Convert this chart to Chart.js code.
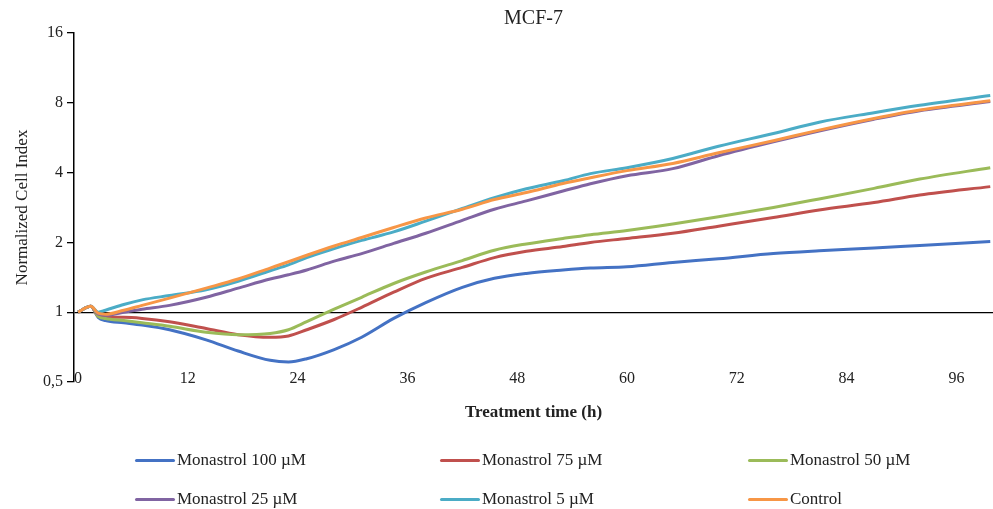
<!DOCTYPE html>
<html>
<head>
<meta charset="utf-8">
<script src="https://cdn.jsdelivr.net/npm/chart.js@4"></script>
<style>
    body { margin: 0; background: #fff; }
    .wrap { position: relative; width: 993px; height: 509px; }
    .legend { position: absolute; left: 0; top: 0; width: 993px; height: 509px; pointer-events: none;
        font-family: 'Liberation Serif', serif; font-size: 17px; color: #222; }
    .item { position: absolute; display: flex; align-items: center; height: 20px; white-space: nowrap; }
    .item span.line { display: inline-block; width: 40px; height: 3px; border-radius: 2px; margin-right: 2px; }
</style>
</head>
<body>
<div class="wrap">
    <canvas id="chart" width="993" height="509"></canvas>
    <div class="legend" id="legend"></div>
</div>
<script>
// Time points (h)
const times = [0, 1.4, 2.2, 3, 5, 7, 10, 14, 17.5, 21, 23, 25, 28, 31, 34.5, 38, 42, 45.5, 49, 53, 56, 60, 65, 70, 76, 81, 87, 92, 99.7];

// Normalized cell index per treatment
const mon100 = [1.0, 1.06, 0.95, 0.92, 0.90, 0.88, 0.84, 0.76, 0.68, 0.62, 0.61, 0.63, 0.69, 0.78, 0.94, 1.10, 1.28, 1.40, 1.47, 1.52, 1.55, 1.57, 1.64, 1.70, 1.79, 1.84, 1.89, 1.94, 2.02];
const mon75 = [1.0, 1.06, 0.96, 0.95, 0.95, 0.94, 0.91, 0.85, 0.80, 0.78, 0.79, 0.84, 0.93, 1.05, 1.22, 1.40, 1.56, 1.72, 1.83, 1.92, 2.0, 2.08, 2.19, 2.35, 2.56, 2.76, 2.97, 3.2, 3.48];
const mon50 = [1.0, 1.06, 0.96, 0.94, 0.92, 0.90, 0.87, 0.82, 0.80, 0.81, 0.84, 0.91, 1.03, 1.16, 1.33, 1.49, 1.67, 1.85, 1.97, 2.08, 2.16, 2.25, 2.40, 2.58, 2.83, 3.08, 3.42, 3.75, 4.2];
const mon25 = [1.0, 1.06, 0.98, 0.97, 1.0, 1.03, 1.07, 1.16, 1.27, 1.39, 1.45, 1.52, 1.66, 1.79, 1.98, 2.19, 2.49, 2.78, 3.02, 3.33, 3.58, 3.88, 4.16, 4.73, 5.43, 6.05, 6.8, 7.4, 8.1];
const mon5 = [1.0, 1.06, 1.0, 1.02, 1.08, 1.13, 1.18, 1.25, 1.36, 1.51, 1.6, 1.72, 1.88, 2.04, 2.22, 2.47, 2.8, 3.12, 3.41, 3.69, 3.96, 4.2, 4.6, 5.2, 5.9, 6.6, 7.25, 7.8, 8.6];
const control = [1.0, 1.06, 0.99, 0.98, 1.02, 1.07, 1.15, 1.27, 1.39, 1.55, 1.65, 1.76, 1.93, 2.1, 2.32, 2.55, 2.78, 3.06, 3.28, 3.59, 3.80, 4.08, 4.38, 4.87, 5.49, 6.1, 6.85, 7.45, 8.17];

const seriesNames = ['Monastrol 100 µM', 'Monastrol 75 µM', 'Monastrol 50 µM', 'Monastrol 25 µM', 'Monastrol 5 µM', 'Control'];
const seriesColors = ['#4472C4', '#C0504D', '#9BBB59', '#8064A2', '#4BACC6', '#F79646'];
const seriesValues = [mon100, mon75, mon50, mon25, mon5, control];

// Axis ticks
const xTicks = [0, 12, 24, 36, 48, 60, 72, 84, 96];
const yTicks = [0.5, 1, 2, 4, 8, 16];

const serif = 'Liberation Serif, Times New Roman, serif';
const textColor = '#222';

const datasets = seriesNames.map((name, i) => ({
    label: name,
    data: times.map((t, k) => ({ x: t, y: seriesValues[i][k] })),
    borderColor: seriesColors[i],
    borderWidth: 3,
    pointRadius: 0,
    cubicInterpolationMode: 'monotone',
    order: seriesNames.length - i
}));

// x labels sit just above the bottom edge of the plot, like the original
const xLabels = {
    id: 'xLabels',
    afterDraw(chart) {
        const { ctx, chartArea, scales } = chart;
        ctx.save();
        ctx.fillStyle = textColor;
        ctx.font = '16px ' + serif;
        ctx.textAlign = 'center';
        ctx.textBaseline = 'middle';
        xTicks.forEach(v => {
            ctx.fillText(String(v), scales.x.getPixelForValue(v), chartArea.bottom - 3);
        });
        ctx.restore();
    }
};

new Chart(document.getElementById('chart'), {
    type: 'line',
    data: { datasets },
    plugins: [xLabels],
    options: {
        responsive: false,
        animation: false,
        layout: { padding: { left: 0, right: 0, top: 0, bottom: 80 } },
        plugins: {
            legend: { display: false },
            tooltip: { enabled: false },
            title: {
                display: true,
                fullSize: false,
                text: 'MCF-7',
                color: textColor,
                font: { family: serif, size: 20, weight: 'normal' },
                padding: { top: 7, bottom: 2 }
            }
        },
        scales: {
            x: {
                type: 'linear',
                min: -0.44,
                max: 100,
                afterBuildTicks: axis => { axis.ticks = xTicks.map(v => ({ value: v })); },
                afterFit: s => { s.height = 47; },
                border: { display: false },
                grid: { display: false, drawTicks: false },
                ticks: { display: false },
                title: {
                    display: true,
                    text: 'Treatment time (h)',
                    color: textColor,
                    font: { family: serif, size: 17, weight: 'bold' },
                    padding: { top: 4, bottom: 6 }
                }
            },
            y: {
                type: 'logarithmic',
                min: 0.5,
                max: 16,
                afterBuildTicks: axis => { axis.ticks = yTicks.map(v => ({ value: v })); },
                afterFit: s => { s.width = 74; },
                border: { display: true, color: '#000', width: 1.5 },
                grid: {
                    color: ctx => (ctx.tick && ctx.tick.value === 1) ? '#000' : 'rgba(0,0,0,0)',
                    lineWidth: 1.3,
                    tickColor: '#000',
                    tickLength: 7
                },
                ticks: {
                    color: textColor,
                    font: { family: serif, size: 16 },
                    padding: 4,
                    callback: v => String(v).replace('.', ',')
                },
                title: {
                    display: true,
                    text: 'Normalized Cell Index',
                    color: textColor,
                    font: { family: serif, size: 17 },
                    padding: { top: 12, bottom: 0 }
                }
            }
        }
    }
});

// Legend in three columns, two rows
const legend = document.getElementById('legend');
const cols = [135, 440, 748];
const rows = [460, 499];
seriesNames.forEach((name, i) => {
    const item = document.createElement('div');
    item.className = 'item';
    item.style.left = cols[i % 3] + 'px';
    item.style.top = (rows[Math.floor(i / 3)] - 10) + 'px';
    item.innerHTML = `<span class="line" style="background:${seriesColors[i]}"></span>${name}`;
    legend.appendChild(item);
});
</script>
</body>
</html>
